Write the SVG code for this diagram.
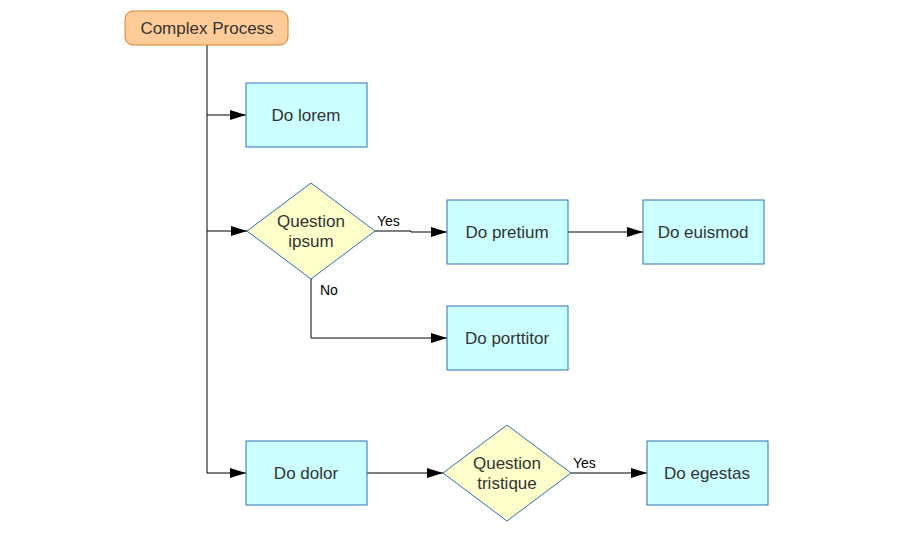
<svg xmlns="http://www.w3.org/2000/svg" width="900" height="540" viewBox="0 0 900 540">
<style>
.box{fill:#ccffff;stroke:#2f6fb5;stroke-width:1}
.dia{fill:#ffffcc;stroke:#2f6fb5;stroke-width:1}
.start{fill:#ffcc99;stroke:#d9822b;stroke-width:1}
.t{font-family:"Liberation Sans",Arial,sans-serif;font-size:17px;fill:#333;text-anchor:middle;dominant-baseline:central}
.l{font-family:"Liberation Sans",Arial,sans-serif;font-size:14px;fill:#000}
.c{fill:none;stroke:#000;stroke-width:1}
</style>
<defs><marker id="a" markerWidth="16" markerHeight="10" refX="16" refY="5" orient="auto" markerUnits="userSpaceOnUse"><path d="M0,0 L16,5 L0,10 Z" fill="#000"/></marker></defs>
<rect width="900" height="540" fill="#fff"/>
<g id="connectors">
<path class="c" d="M207,45 V473"/>
<path class="c" d="M207,115 H246" marker-end="url(#a)"/>
<path class="c" d="M207,231 H247" marker-end="url(#a)"/>
<path class="c" d="M207,473 H246" marker-end="url(#a)"/>
<path class="c" d="M375,231 H411 V232 H447" marker-end="url(#a)"/>
<path class="c" d="M568,232 H643" marker-end="url(#a)"/>
<path class="c" d="M311,279 V338 H447" marker-end="url(#a)"/>
<path class="c" d="M367,473 H443" marker-end="url(#a)"/>
<path class="c" d="M571,473 H647" marker-end="url(#a)"/>
<text class="l" x="377" y="226">Yes</text>
<text class="l" x="320" y="295">No</text>
<text class="l" x="573" y="468">Yes</text>
</g>
<g id="start"><rect class="start" x="125" y="11" width="163" height="34" rx="8"/><text class="t" x="207" y="28">Complex Process</text></g>
<g id="lorem"><rect class="box" x="246" y="83" width="121" height="64"/><text class="t" x="306" y="115">Do lorem</text></g>
<g id="ipsum"><polygon class="dia" points="311,183 375,231 311,279 247,231"/><text class="t" x="311" y="221">Question</text><text class="t" x="311" y="241">ipsum</text></g>
<g id="pretium"><rect class="box" x="447" y="200" width="121" height="64"/><text class="t" x="507" y="232">Do pretium</text></g>
<g id="euismod"><rect class="box" x="643" y="200" width="121" height="64"/><text class="t" x="703" y="232">Do euismod</text></g>
<g id="porttitor"><rect class="box" x="447" y="306" width="121" height="64"/><text class="t" x="507" y="338">Do porttitor</text></g>
<g id="dolor"><rect class="box" x="246" y="441" width="121" height="64"/><text class="t" x="306" y="473">Do dolor</text></g>
<g id="tristique"><polygon class="dia" points="507,425 571,473 507,521 443,473"/><text class="t" x="507" y="463">Question</text><text class="t" x="507" y="483">tristique</text></g>
<g id="egestas"><rect class="box" x="647" y="441" width="121" height="64"/><text class="t" x="707" y="473">Do egestas</text></g>
</svg>
